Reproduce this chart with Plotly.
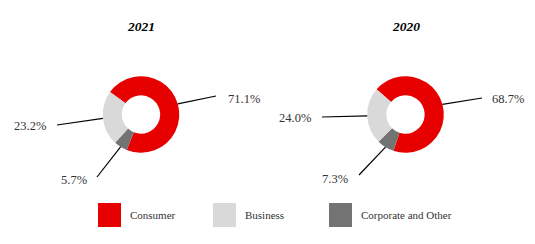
import math
import plotly.graph_objects as go

W, H = 535, 244

years = ["2021", "2020"]
segments = ["Consumer", "Corporate and Other", "Business"]
values_2021 = [71.1, 5.7, 23.2]
values_2020 = [68.7, 7.3, 24.0]
colors = ["#E60000", "#737373", "#D9D9D9"]
legend_order = ["Consumer", "Business", "Corporate and Other"]

# layout (pixel) settings
centers = [(141, 114.5), (405.5, 114.5)]
radius = 38.3
rotations = [-54, -49]
label_ends = [
    [(216, 96), (97, 177), (57, 125)],
    [(482, 98), (359, 175), (322, 117)],
]
label_pos = [
    [(226, 99, "left"), (89, 180, "right"), (48, 126, "right")],
    [(490, 99, "left"), (350, 179, "right"), (313, 118, "right")],
]

def px(x):
    return x / W

def py(y):
    return 1 - y / H

fig = go.Figure()
shapes = []
annotations = []
serif = "Liberation Serif, Times New Roman, serif"

for i, vals in enumerate([values_2021, values_2020]):
    cx, cy = centers[i]
    fig.add_trace(go.Pie(
        labels=segments, values=vals, hole=0.5, sort=False,
        direction="clockwise", rotation=rotations[i],
        marker=dict(colors=colors, line=dict(width=0)),
        textinfo="none", hoverinfo="label+percent", showlegend=False,
        domain=dict(x=[px(cx - radius), px(cx + radius)],
                    y=[py(cy + radius), py(cy - radius)]),
    ))
    annotations.append(dict(
        text="<b><i>%s</i></b>" % years[i], x=px(cx), y=py(27),
        xref="paper", yref="paper", showarrow=False,
        font=dict(family=serif, size=13.5, color="#000"),
        xanchor="center", yanchor="middle"))
    total = sum(vals)
    start = rotations[i]
    for j, v in enumerate(vals):
        ang = start + 360 * v / total / 2
        start += 360 * v / total
        a = math.radians(ang)
        sx = cx + radius * math.sin(a)
        sy = cy - radius * math.cos(a)
        ex, ey = label_ends[i][j]
        shapes.append(dict(type="line", xref="paper", yref="paper",
                           x0=px(sx), y0=py(sy), x1=px(ex), y1=py(ey),
                           line=dict(color="#000", width=1.2)))
        lx, ly, anc = label_pos[i][j]
        annotations.append(dict(
            text="%.1f%%" % v, x=px(lx), y=py(ly), xref="paper", yref="paper",
            showarrow=False, xanchor=anc, yanchor="middle",
            font=dict(family=serif, size=12.5, color="#333")))

# legend drawn manually
leg_x = [98, 213, 329]
for k, name in enumerate(legend_order):
    c = colors[segments.index(name)]
    x0 = leg_x[k]
    shapes.append(dict(type="rect", xref="paper", yref="paper",
                       x0=px(x0), x1=px(x0 + 23), y0=py(227), y1=py(203),
                       fillcolor=c, line=dict(width=0)))
    annotations.append(dict(
        text=name, x=px(x0 + 30), y=py(215), xref="paper", yref="paper",
        showarrow=False, xanchor="left", yanchor="middle",
        font=dict(family=serif, size=11, color="#333")))

fig.update_layout(
    width=W, height=H, margin=dict(l=0, r=0, t=0, b=0),
    paper_bgcolor="white", plot_bgcolor="white",
    shapes=shapes, annotations=annotations,
)

fig.write_html("out.html")
